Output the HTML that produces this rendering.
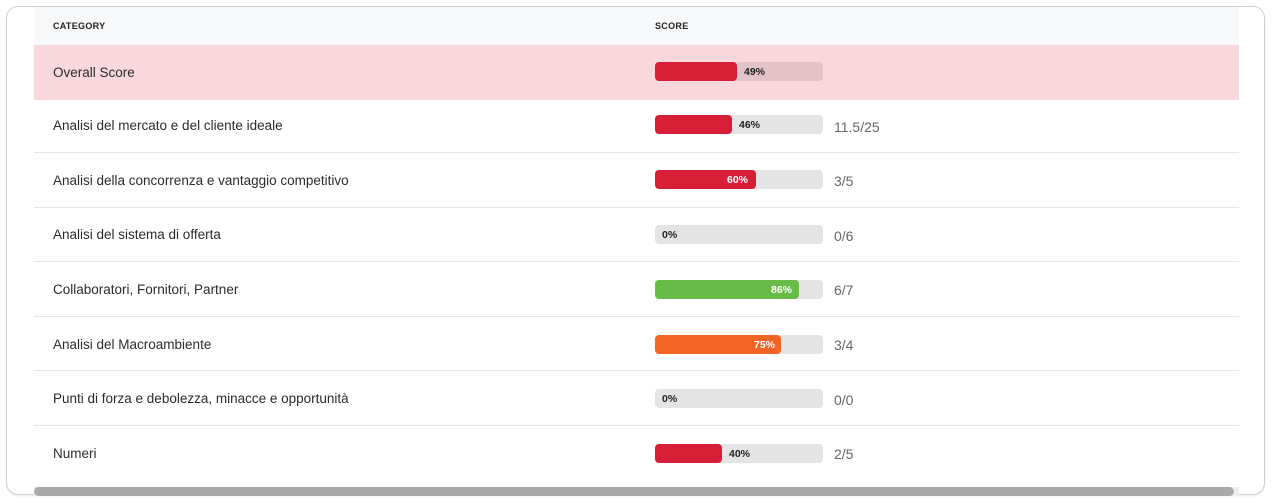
<!DOCTYPE html>
<html><head><meta charset="utf-8"><style>
body{margin:0;width:1277px;height:503px;background:#fff;font-family:"Liberation Sans",sans-serif;position:relative;overflow:hidden}
.card{position:absolute;left:6px;top:6px;width:1259px;height:489px;border:1px solid #cfcfd3;border-radius:12px;box-sizing:border-box;box-shadow:0 1px 2px rgba(0,0,0,.08)}
.hdr{position:absolute;left:34px;top:7px;width:1205px;height:38px;background:#f7f8fa}
.h{position:absolute;top:21px;font-size:9px;font-weight:bold;color:#222;letter-spacing:.3px}
.row{position:absolute;left:34px;width:1205px;border-top:1px solid #e6e6e6}
.lbl{position:absolute;left:19px;font-size:13.5px;color:#2b2b2b}
.bar{position:absolute;left:621px;width:168px;height:19px;border-radius:4px;background:#e4e4e4}
.fill{position:absolute;left:0;top:0;height:19px;border-radius:4px}
.pct{position:absolute;top:4px;font-size:10.5px;font-weight:bold}
.sc{position:absolute;left:800px;font-size:14px;color:#666}
.sb{position:absolute;left:34px;top:487px;width:1205px;height:9px;background:#eee}
.sb div{width:1200px;height:9px;background:#aaa;border-radius:5px}
</style></head><body>
<div class="card"></div>
<div class="hdr"></div>
<div class="h" style="left:53px">CATEGORY</div>
<div class="h" style="left:655px">SCORE</div>

<div class="row" style="top:45px;height:55px;background:#f9d8dd;border-top:none">
<div class="lbl" style="top:20px">Overall Score</div>
<div class="bar" style="top:17px;background:#e2c4c8"><div class="fill" style="width:82px;background:#d61f36"></div><div class="pct" style="left:89px;color:#222">49%</div></div>
</div>

<div class="row" style="top:100px;height:52px;border-top:none">
<div class="lbl" style="top:18px">Analisi del mercato e del cliente ideale</div>
<div class="bar" style="top:15px"><div class="fill" style="width:77px;background:#d61f36"></div><div class="pct" style="left:84px;color:#222">46%</div></div>
<div class="sc" style="top:19px">11.5/25</div>
</div>

<div class="row" style="top:152px;height:55px">
<div class="lbl" style="top:20px">Analisi della concorrenza e vantaggio competitivo</div>
<div class="bar" style="top:17px"><div class="fill" style="width:101px;background:#d61f36"></div><div class="pct" style="left:72px;color:#fff">60%</div></div>
<div class="sc" style="top:20px">3/5</div>
</div>

<div class="row" style="top:207px;height:54px">
<div class="lbl" style="top:19px">Analisi del sistema di offerta</div>
<div class="bar" style="top:17px"><div class="pct" style="left:7px;color:#222">0%</div></div>
<div class="sc" style="top:20px">0/6</div>
</div>

<div class="row" style="top:261px;height:55px">
<div class="lbl" style="top:20px">Collaboratori, Fornitori, Partner</div>
<div class="bar" style="top:18px"><div class="fill" style="width:144px;background:#68bb46"></div><div class="pct" style="left:116px;color:#fff">86%</div></div>
<div class="sc" style="top:20px">6/7</div>
</div>

<div class="row" style="top:316px;height:54px">
<div class="lbl" style="top:20px">Analisi del Macroambiente</div>
<div class="bar" style="top:18px"><div class="fill" style="width:126px;background:#f26424"></div><div class="pct" style="left:99px;color:#fff">75%</div></div>
<div class="sc" style="top:20px">3/4</div>
</div>

<div class="row" style="top:370px;height:55px">
<div class="lbl" style="top:20px">Punti di forza e debolezza, minacce e opportunità</div>
<div class="bar" style="top:18px"><div class="pct" style="left:7px;color:#222">0%</div></div>
<div class="sc" style="top:21px">0/0</div>
</div>

<div class="row" style="top:425px;height:55px">
<div class="lbl" style="top:20px">Numeri</div>
<div class="bar" style="top:18px"><div class="fill" style="width:67px;background:#d61f36"></div><div class="pct" style="left:74px;color:#222">40%</div></div>
<div class="sc" style="top:20px">2/5</div>
</div>

<div class="sb"><div></div></div>
</body></html>
